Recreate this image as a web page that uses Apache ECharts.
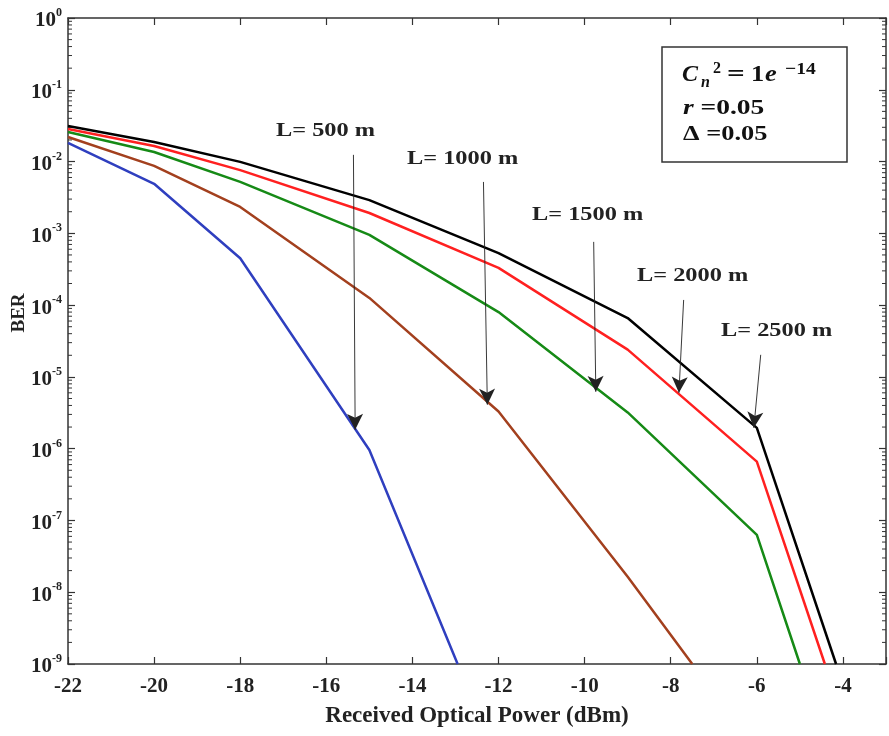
<!DOCTYPE html>
<html>
<head>
<meta charset="utf-8">
<script src="https://cdn.jsdelivr.net/npm/echarts@6/dist/echarts.min.js"></script>
<style>html,body{margin:0;padding:0;background:#fff}#c{width:889px;height:736px}</style>
</head>
<body>
<div id="c"></div>
<script>
// ---- data ----
const x500  = [-22, -20, -18, -15, -12.95];
const ber500  = [0.0182, 0.0049, 4.5e-4, 9.6e-7, 1e-9];
const x1000 = [-22, -20, -18, -15, -12, -9, -7.5];
const ber1000 = [0.022, 0.0087, 0.00233, 1.26e-4, 3.3e-6, 1.64e-8, 1e-9];
const x1500 = [-22, -20, -18, -15, -12, -9, -6, -5.0];
const ber1500 = [0.0258, 0.0136, 0.0052, 9.5e-4, 8.0e-5, 3.2e-6, 6.3e-8, 1e-9];
const x2000 = [-22, -20, -18, -15, -12, -9, -6, -4.42];
const ber2000 = [0.0284, 0.0165, 0.0076, 0.00192, 3.3e-4, 2.4e-5, 6.6e-7, 1e-9];
const x2500 = [-22, -20, -18, -15, -12, -9, -6, -4.16];
const ber2500 = [0.0313, 0.0187, 0.0099, 0.0029, 5.3e-4, 6.6e-5, 1.95e-6, 1e-9];
const xTicks = [-22, -20, -18, -16, -14, -12, -10, -8, -6, -4];
// annotation arrows in data units
const arrowStarts = [[-15.37, 0.0124], [-12.35, 5.2e-3], [-9.79, 7.6e-4], [-7.70, 1.18e-4], [-5.91, 2.03e-5]];
const arrowEnds   = [[-15.33, 1.83e-6], [-12.26, 4.1e-6], [-9.74, 6.2e-6], [-7.81, 6.0e-6], [-6.07, 1.95e-6]];
const arrowLabels = ['L= 500 m', 'L= 1000 m', 'L= 1500 m', 'L= 2000 m', 'L= 2500 m'];

const FONT = 'Liberation Serif';
const zip = (xs, ys) => xs.map((x, i) => [x, ys[i]]);

// minor log tick values (2..9 per decade) for axis decoration
const minorVals = [];
for (let k = -9; k < 0; k++) for (let m = 2; m <= 9; m++) minorVals.push([-22, m * Math.pow(10, k)]);

const chart = echarts.init(document.getElementById('c'));
const lineS = (name, data, color) => ({
  type: 'line', name, data, showSymbol: false, symbol: 'none',
  lineStyle: { color, width: 2.5 }, itemStyle: { color }, z: 3, animation: false
});

const axisCommon = {
  axisLine: { show: true, lineStyle: { color: '#333', width: 1.5 } },
  axisTick: { show: true, inside: true, length: 7, lineStyle: { color: '#333', width: 1.2 } },
  splitLine: { show: false }
};

const T = (text, x, y, font, extra) => Object.assign({
  type: 'text', x, y, z: 11,
  style: { text, font, fill: '#111', align: 'left', verticalAlign: 'middle' }
}, extra || {});

chart.setOption({
  animation: false,
  backgroundColor: '#fff',
  grid: { left: 68, right: 3, top: 18, bottom: 72 },
  xAxis: [
    Object.assign({
      type: 'value', min: -22, max: -3, interval: 2, position: 'bottom',
      name: 'Received Optical Power (dBm)', nameLocation: 'middle', nameGap: 41,
      nameTextStyle: { fontFamily: FONT, fontWeight: 'bold', fontSize: 23, color: '#222' },
      axisLabel: {
        margin: 12, fontFamily: FONT, fontWeight: 'bold', fontSize: 21, color: '#222',
        formatter: v => xTicks.includes(v) ? String(v) : ''
      }
    }, axisCommon),
    Object.assign({
      type: 'value', min: -22, max: -3, interval: 2, position: 'top',
      axisLabel: { show: false }
    }, axisCommon)
  ],
  yAxis: [
    Object.assign({
      type: 'log', logBase: 10, min: 1e-9, max: 1, interval: 1, position: 'left',
      axisLabel: {
        margin: 6, color: '#222',
        formatter: v => '{a|10}{b|' + Math.round(Math.log10(v)) + '}',
        rich: {
          a: { fontFamily: FONT, fontWeight: 'bold', fontSize: 21, color: '#222', padding: [6, 0, 0, 0] },
          b: { fontFamily: FONT, fontWeight: 'bold', fontSize: 12, color: '#222', padding: [0, 0, 10, 0] }
        }
      }
    }, axisCommon),
    Object.assign({
      type: 'log', logBase: 10, min: 1e-9, max: 1, interval: 1, position: 'right',
      axisLabel: { show: false }
    }, axisCommon)
  ],
  series: [
    {
      type: 'custom', data: minorVals, z: 2, silent: true,
      renderItem: (params, api) => {
        const cs = params.coordSys;
        const y = api.coord([-22, api.value(1)])[1];
        const st = { stroke: '#333', lineWidth: 1 };
        return { type: 'group', children: [
          { type: 'line', shape: { x1: cs.x, y1: y, x2: cs.x + 4, y2: y }, style: st },
          { type: 'line', shape: { x1: cs.x + cs.width - 4, y1: y, x2: cs.x + cs.width, y2: y }, style: st }
        ] };
      }
    },
    lineS('L=500 m', zip(x500, ber500), '#2f3fbf'),
    lineS('L=1000 m', zip(x1000, ber1000), '#a3401e'),
    lineS('L=1500 m', zip(x1500, ber1500), '#168a16'),
    lineS('L=2000 m', zip(x2000, ber2000), '#ff2020'),
    lineS('L=2500 m', zip(x2500, ber2500), '#000000'),
    {
      type: 'line', data: [], z: 5,
      markLine: {
        silent: true, animation: false,
        symbol: ['none', 'arrow'], symbolSize: [12, 16],
        lineStyle: { color: '#222', width: 0.9, type: 'solid' },
        label: { show: false },
        data: arrowStarts.map((s, i) => [{ coord: s }, { coord: arrowEnds[i] }])
      }
    }
  ],
  graphic: [
    // y axis name
    { type: 'text', x: 19, y: 313, rotation: Math.PI / 2,
      style: { text: 'BER', font: 'bold 19px "Liberation Serif"', fill: '#222', align: 'center', verticalAlign: 'middle' } },
    // curve labels
    ...arrowLabels.map((t, i) => ({
      type: 'text', x: [276, 407, 532, 637, 721][i], y: [131, 159, 215, 276, 331][i], scaleX: 1.28,
      style: { text: t, font: 'bold 19px "Liberation Serif"', fill: '#222', align: 'left', verticalAlign: 'middle' }
    })),
    // parameter box
    { type: 'rect', shape: { x: 662, y: 47, width: 185, height: 115 },
      style: { fill: '#fff', stroke: '#333', lineWidth: 1.5 }, z: 10 },
    T('C', 682, 75, 'italic bold 24px "Liberation Serif"'),
    T('n', 701, 83, 'italic bold 16px "Liberation Serif"'),
    T('2', 713, 69, 'bold 16px "Liberation Serif"'),
    T('=', 727, 75, 'bold 24px "Liberation Serif"', { scaleX: 1.3 }),
    T('1', 751, 75, 'bold 24px "Liberation Serif"', { scaleX: 1.1 }),
    T('e', 765, 75, 'italic bold 24px "Liberation Serif"', { scaleX: 1.1 }),
    T('\u221214', 785, 70, 'bold 17px "Liberation Serif"', { scaleX: 1.15 }),
    { type: 'text', x: 683, y: 108, z: 11, scaleX: 1.25, style: { text: '{i|r} =0.05', font: 'bold 22px "Liberation Serif"', fill: '#111', verticalAlign: 'middle',
      rich: { i: { fontFamily: FONT, fontStyle: 'italic', fontWeight: 'bold', fontSize: 22 } } } },
    T('\u0394 =0.05', 683, 134, 'bold 22px "Liberation Serif"', { scaleX: 1.2 })
  ]
});
</script>
</body>
</html>
